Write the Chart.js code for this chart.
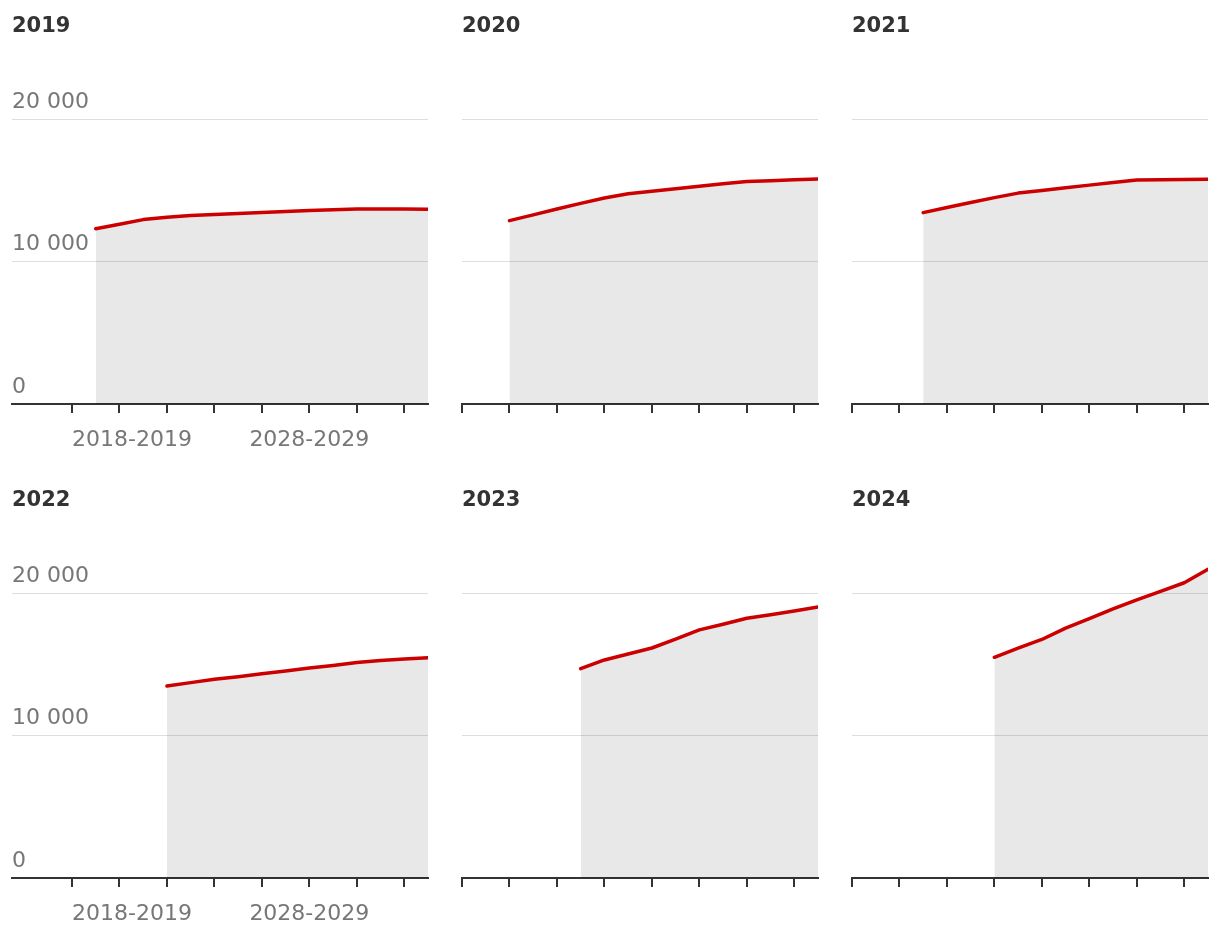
<!DOCTYPE html>
<html>
<head>
<meta charset="utf-8">
<script src="https://cdn.jsdelivr.net/npm/chart.js@4"></script>
<style>
  body { margin: 0; background: #fff; width: 1220px; height: 938px; position: relative; overflow: hidden; font-family: "DejaVu Sans", sans-serif; }
  .panel { position: absolute; }
  .panel h2 { position: absolute; margin: 0; left: 12px; top: 13px; font-size: 21px; line-height: 24px; font-weight: bold; color: #333; }
  .panel canvas { position: absolute; left: 0; top: 0; }
</style>
</head>
<body>
<script>
// school years on the x axis
const seasons = ['2018-2019', '2019-2020', '2020-2021', '2021-2022', '2022-2023', '2023-2024',
  '2024-2025', '2025-2026', '2026-2027', '2027-2028', '2028-2029', '2029-2030',
  '2030-2031', '2031-2032', '2032-2033', '2033-2034'];
const xLabelSeasons = ['2018-2019', '2028-2029'];
const titles = ['2019', '2020', '2021', '2022', '2023', '2024'];
const yTicks = [0, 10000, 20000];

// one projection per year of publication
const forecast2019 = [null, 12300, 12620, 12940, 13100, 13220, 13300, 13370, 13440, 13510, 13580, 13630, 13680, 13680, 13680, 13660];
const forecast2020 = [null, null, 12870, 13270, 13680, 14080, 14460, 14750, 14930, 15100, 15280, 15450, 15610, 15670, 15730, 15790];
const forecast2021 = [null, null, null, 13430, 13790, 14140, 14480, 14800, 14980, 15170, 15360, 15540, 15720, 15740, 15750, 15770];
const forecast2022 = [null, null, null, null, 13470, 13710, 13940, 14130, 14330, 14530, 14730, 14920, 15130, 15270, 15370, 15460];
const forecast2023 = [null, null, null, null, null, 14690, 15300, 15720, 16140, 16770, 17410, 17810, 18230, 18480, 18740, 19020];
const forecast2024 = [null, null, null, null, null, null, 15490, 16130, 16740, 17540, 18210, 18880, 19520, 20120, 20720, 21660];
const series = [forecast2019, forecast2020, forecast2021, forecast2022, forecast2023, forecast2024];

Chart.defaults.font.family = '"DejaVu Sans", sans-serif';

const colLeft = [0, 450, 840];
const colWidth = [440, 380, 380];
const rowTop = [0, 474];
const panelHeight = 474;
const step = 356 / 15; // pixels per season

titles.forEach((title, i) => {
  const col = i % 3, row = Math.floor(i / 3);
  const first = col === 0;

  const div = document.createElement('div');
  div.className = 'panel';
  div.style.left = colLeft[col] + 'px';
  div.style.top = rowTop[row] + 'px';
  div.style.width = colWidth[col] + 'px';
  div.style.height = panelHeight + 'px';
  const canvas = document.createElement('canvas');
  canvas.width = colWidth[col];
  canvas.height = panelHeight;
  div.appendChild(canvas);
  const h = document.createElement('h2');
  h.textContent = title;
  div.appendChild(h);
  document.body.appendChild(div);

  const points = series[i]
    .map((v, k) => ({ x: k, y: v }))
    .filter(p => p.y !== null);

  new Chart(canvas.getContext('2d'), {
    type: 'line',
    data: {
      datasets: [{
        data: points,
        borderColor: '#cc0000',
        borderWidth: 3.5,
        backgroundColor: 'rgba(0,0,0,0.09)',
        fill: 'origin',
        pointRadius: 0,
        tension: 0,
        borderJoinStyle: 'round',
        borderCapStyle: 'round'
      }]
    },
    options: {
      responsive: false,
      animation: false,
      layout: { padding: { left: 12, right: 12, top: 90.5, bottom: first ? 6.6 : 61 } },
      plugins: { legend: { display: false }, tooltip: { enabled: false } },
      scales: {
        x: {
          type: 'linear',
          min: first ? -60 / step : 0,
          max: seasons.length - 1,
          afterBuildTicks: (axis) => {
            axis.ticks = [];
            for (let k = 0; k < seasons.length - 1; k += 2) axis.ticks.push({ value: k });
          },
          border: { display: true, color: '#333', width: 2 },
          grid: { drawOnChartArea: false, drawTicks: true, tickLength: 9, color: '#333', lineWidth: 2 },
          ticks: {
            display: first,
            autoSkip: false,
            maxRotation: 0,
            align: 'inner',
            padding: 14,
            color: '#777',
            font: { size: 22 },
            callback: (v) => xLabelSeasons.includes(seasons[v]) ? seasons[v] : ''
          }
        },
        y: {
          min: 0,
          max: 22000,
          afterBuildTicks: (axis) => { axis.ticks = yTicks.map(v => ({ value: v })); },
          border: { display: false },
          grid: {
            drawTicks: false,
            color: (ctx) => ctx.tick && ctx.tick.value === 0 ? 'rgba(0,0,0,0)' : '#dedede',
            lineWidth: 1
          },
          ticks: {
            display: first,
            mirror: true,
            padding: 0,
            labelOffset: -17,
            color: '#777',
            font: { size: 22 },
            callback: (v) => v === 0 ? '0' : (v / 1000) + ' 000'
          }
        }
      }
    }
  });
});
</script>
</body>
</html>
